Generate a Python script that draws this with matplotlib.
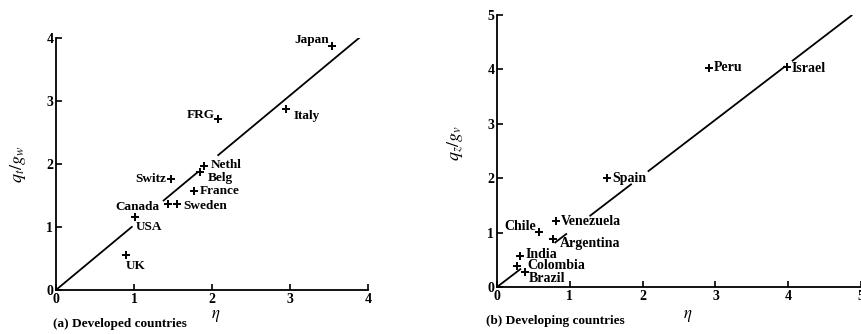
import numpy as np
import matplotlib.pyplot as plt

plt.rcParams['mathtext.fontset'] = 'stix'

# panel (a): developed countries
dev_names = ['Japan', 'FRG', 'Italy', 'Nethl', 'Belg', 'Switz', 'France',
             'Canada', 'Sweden', 'USA', 'UK']
dev_eta = [3.54, 2.08, 2.95, 1.90, 1.84, 1.48, 1.77, 1.44, 1.55, 1.01, 0.90]
dev_q = [3.87, 2.71, 2.87, 1.97, 1.88, 1.76, 1.57, 1.37, 1.37, 1.16, 0.56]
# label offsets in pixels and horizontal alignment
dev_off = [(-3, 6, 'right'), (-4, 4, 'right'), (7, -7, 'left'), (6, 1, 'left'),
           (8, -6, 'left'), (-5, 0, 'right'), (6, 0, 'left'), (-9, -3, 'right'),
           (6, -2, 'left'), (1, -10, 'left'), (-1, -11, 'left')]
dev_slope = 1.03
dev_segments = [(0.0, 0.98), (1.37, 1.82), (2.07, 3.93)]

# panel (b): developing countries
ldc_names = ['Peru', 'Israel', 'Spain', 'Venezuela', 'Chile', 'Argentina',
             'India', 'Colombia', 'Brazil']
ldc_eta = [2.91, 3.98, 1.51, 0.81, 0.58, 0.77, 0.31, 0.28, 0.39]
ldc_q = [4.03, 4.04, 2.00, 1.21, 1.01, 0.88, 0.57, 0.39, 0.28]
ldc_off = [(5, 0, 'left'), (5, -1, 'left'), (5, 0, 'left'), (5, 0, 'left'),
           (-3, 6, 'right'), (7, -4, 'left'), (6, 2, 'left'), (10, 0, 'left'),
           (3, -7, 'left')]
ldc_slope = 1.025
ldc_segments = [(0.0, 0.33), (0.79, 0.96), (1.27, 1.85), (2.07, 3.96), (4.05, 4.88)]

FONT = 'Liberation Serif'


def panel(ax, names, eta, q, offs, slope, segments, lim, fs, ylabel, caption,
          cap_dx, ylab_xy, xlab_xy):
    for x0, x1 in segments:
        xs = np.array([x0, x1])
        ax.plot(xs, slope * xs, color='black', lw=1.3, solid_capstyle='butt')
    ax.plot(eta, q, linestyle='none', marker='+', ms=5.5, mew=1.4, color='black')
    for name, x, y, (dx, dy, ha) in zip(names, eta, q, offs):
        ax.annotate(name, (x, y), xytext=(dx, dy), textcoords='offset pixels',
                    ha=ha, va='center', fontsize=fs, family=FONT, weight='bold')
    ax.set_xlim(0, lim)
    ax.set_ylim(0, lim)
    ax.set_xticks(range(lim + 1))
    ax.set_yticks(range(lim + 1))
    for s in ['top', 'right']:
        ax.spines[s].set_visible(False)
    for s in ['left', 'bottom']:
        ax.spines[s].set_linewidth(1.3)
    ax.tick_params(direction='in', length=4, width=1.2, pad=2, labelsize=10)
    for lab in ax.get_xticklabels() + ax.get_yticklabels():
        lab.set_family(FONT)
        lab.set_weight('bold')
    ax.set_xlabel(r'$\eta$', fontsize=12)
    ax.set_ylabel(ylabel, fontsize=13)
    ax.xaxis.set_label_coords(*xlab_xy)
    ax.yaxis.set_label_coords(*ylab_xy)
    ax.annotate(caption, (0, 0), xycoords='axes fraction', xytext=(cap_dx, -34),
                textcoords='offset pixels', ha='left', va='center',
                fontsize=9.5, family=FONT, weight='bold')


fig = plt.figure(figsize=(8.62, 3.34), dpi=100)
ax1 = fig.add_axes([0.065, 0.132, 0.362, 0.754])
ax2 = fig.add_axes([0.5766, 0.1407, 0.4223, 0.8143])

panel(ax1, dev_names, dev_eta, dev_q, dev_off, dev_slope, dev_segments, 4, 9.5,
      r'$q_t/g_w$', '(a) Developed countries', -3, (-0.089, 0.5), (0.51, -0.063))
panel(ax2, ldc_names, ldc_eta, ldc_q, ldc_off, ldc_slope, ldc_segments, 5, 10,
      r'$q_z/g_v$', '(b) Developing countries', -11, (-0.085, 0.53), (0.525, -0.07))

fig.savefig('out.png', dpi=100)
